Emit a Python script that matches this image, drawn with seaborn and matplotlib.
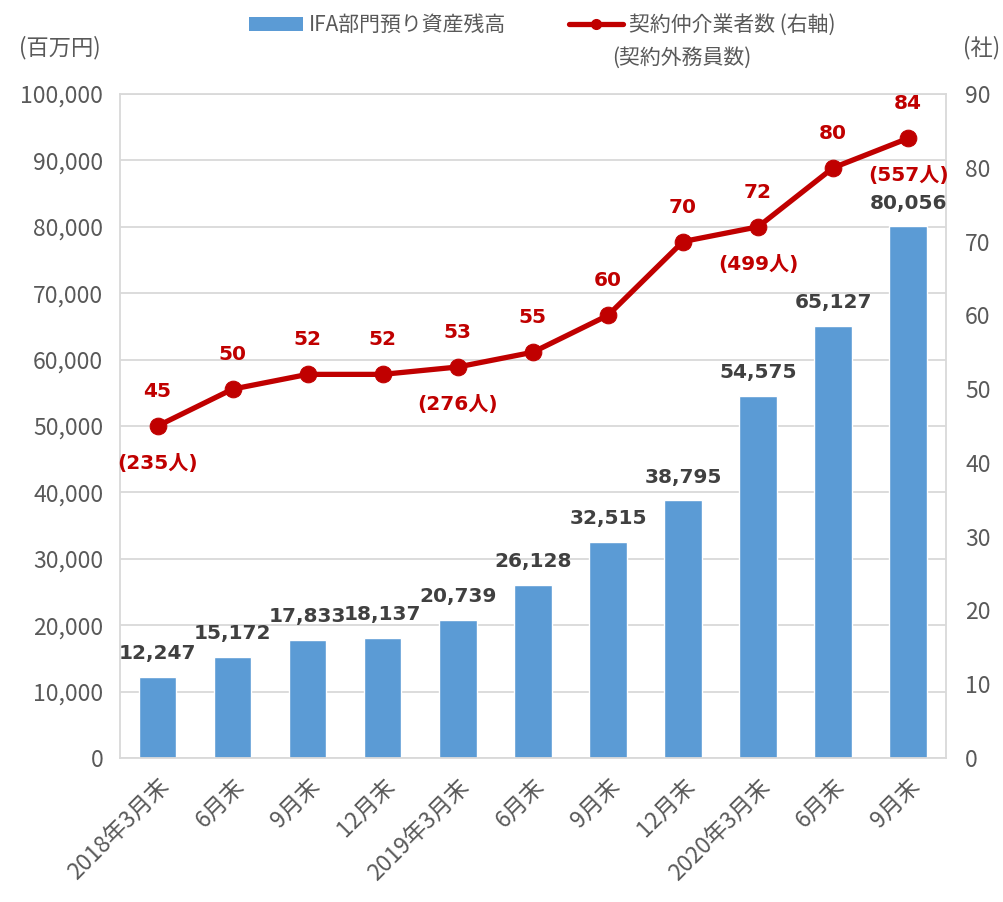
import numpy as np
import pandas as pd
import seaborn as sns
import matplotlib.pyplot as plt
from matplotlib.patches import Patch
from matplotlib.lines import Line2D

# Data
periods = ['2018年3月末', '6月末', '9月末', '12月末', '2019年3月末', '6月末',
           '9月末', '12月末', '2020年3月末', '6月末', '9月末']
assets = [12247, 15172, 17833, 18137, 20739, 26128,
          32515, 38795, 54575, 65127, 80056]
firms = [45, 50, 52, 52, 53, 55, 60, 70, 72, 80, 84]
staff_idx = [0, 4, 8, 10]
staff = [235, 276, 499, 557]

BAR = '#5B9BD5'
RED = '#C00000'
GREY = '#595959'
BOLD_FONT = ['DejaVu Sans', 'Noto Sans CJK JP']

sns.set_theme(style='white')
plt.rcParams['font.family'] = ['Noto Sans CJK JP', 'DejaVu Sans']

fig = plt.figure(figsize=(10.04, 9.02), dpi=100)
ax = fig.add_axes([0.1195, 0.1596, 0.8225, 0.7362])

# Bars (left axis)
df = pd.DataFrame({'period': range(len(periods)), 'assets': assets})
sns.barplot(data=df, x='period', y='assets', color=BAR, saturation=1,
            width=0.5, ax=ax, zorder=2)
ax.set_xlim(-0.5, len(periods) - 0.5)
ax.set_ylim(0, 100000)
ax.set_yticks(np.arange(0, 100001, 10000))
ax.set_yticklabels([f'{v:,}' for v in range(0, 100001, 10000)])
ax.set_xticks(range(len(periods)))
ax.set_xticklabels(periods, rotation=45, ha='right', rotation_mode='anchor')
ax.set_xlabel('')
ax.set_ylabel('')
ax.yaxis.grid(True, color='#D9D9D9', linewidth=1.3, zorder=0)
ax.set_axisbelow(True)
for s in ax.spines.values():
    s.set_color('#D9D9D9')
    s.set_linewidth(1.3)
ax.tick_params(axis='y', length=0, labelsize=16.5, labelcolor=GREY, pad=12)
ax.tick_params(axis='x', length=0, labelsize=16.5, labelcolor=GREY, pad=12)
ax.bar_label(ax.containers[0], labels=[f'{v:,}' for v in assets],
             padding=10, fontsize=14.5, fontweight='bold', color='#404040',
             family=BOLD_FONT)

# Line (right axis)
ax2 = ax.twinx()
sns.lineplot(x=np.arange(len(firms)), y=firms, ax=ax2, color=RED,
             linewidth=3.8, marker='o', markersize=12, markeredgecolor=RED)
ax2.set_ylim(0, 90)
ax2.set_yticks(range(0, 91, 10))
ax2.tick_params(axis='y', length=0, labelsize=16.5, labelcolor=GREY, pad=14)
for s in ax2.spines.values():
    s.set_visible(False)

for i, v in enumerate(firms):
    ax2.annotate(str(v), (i, v), xytext=(0, 18), textcoords='offset points',
                 ha='center', va='bottom', fontsize=14.5, fontweight='bold',
                 color=RED, family=BOLD_FONT)
for i, n in zip(staff_idx, staff):
    ax2.annotate(f'({n}人)', (i, firms[i]), xytext=(0, -20),
                 textcoords='offset points', ha='center', va='top',
                 fontsize=14.5, fontweight='bold', color=RED,
                 family=BOLD_FONT)

# Unit labels
fig.text(0.06, 0.947, '(百万円)', ha='center', va='center', fontsize=16,
         color=GREY)
fig.text(0.978, 0.947, '(社)', ha='center', va='center', fontsize=16,
         color=GREY)

# Legend
handles = [Patch(facecolor=BAR, edgecolor='none'),
           Line2D([0], [0], color=RED, lw=3.8, marker='o', markersize=7)]
fig.legend(handles, ['IFA部門預り資産残高', '契約仲介業者数 (右軸)'],
           loc='center', bbox_to_anchor=(0.54, 0.972), ncol=2, frameon=False,
           fontsize=15, labelcolor=GREY, handlelength=2.6, columnspacing=3,
           handletextpad=0.3)
fig.text(0.61, 0.936, '(契約外務員数)', ha='left', va='center', fontsize=15,
         color=GREY)

fig.savefig('out.png', dpi=100)
